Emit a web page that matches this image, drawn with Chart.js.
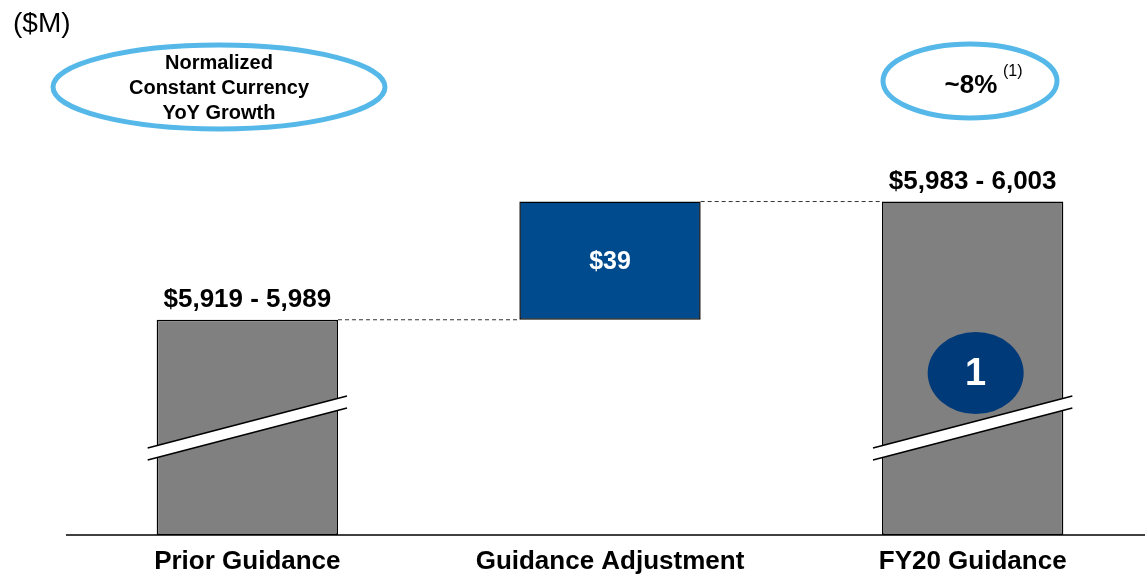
<!DOCTYPE html>
<html>
<head>
<meta charset="utf-8">
<script src="https://cdn.jsdelivr.net/npm/chart.js@4"></script>
<style>
  html, body { margin: 0; padding: 0; background: #fff; overflow: hidden; }
  #wrap { width: 1154px; height: 576px; }
</style>
</head>
<body>
<div id="wrap"><canvas id="guidanceChart" width="1154" height="576"></canvas></div>
<script>
const categories = ['Prior Guidance', 'Guidance Adjustment', 'FY20 Guidance'];
const rangeLow = [5919, null, 5983];
const rangeHigh = [5989, null, 6003];
const adjustment = [null, 39, null];
const axisFloor = 5883; // broken axis, bars start here

const fmt = v => v.toLocaleString('en-US');
const mid = i => (rangeLow[i] + rangeHigh[i]) / 2;
const priorMid = mid(0);
const barData = [
  [axisFloor, priorMid],
  [priorMid, priorMid + adjustment[1]],
  [axisFloor, mid(2)]
];
const barLabels = [
  '$' + fmt(rangeLow[0]) + ' - ' + fmt(rangeHigh[0]),
  '$' + adjustment[1],
  '$' + fmt(rangeLow[2]) + ' - ' + fmt(rangeHigh[2])
];

const FONT = '"Liberation Sans", Arial, sans-serif';

const extras = {
  id: 'extras',
  afterDatasetsDraw(chart) {
    const ctx = chart.ctx;
    const bars = chart.getDatasetMeta(0).data;
    const base = chart.scales.y.getPixelForValue(axisFloor);

    // axis line
    ctx.save();
    ctx.strokeStyle = '#000';
    ctx.lineWidth = 1.5;
    ctx.beginPath();
    ctx.moveTo(chart.chartArea.left, base);
    ctx.lineTo(chart.width, base);
    ctx.stroke();

    // dashed connectors
    ctx.strokeStyle = '#333';
    ctx.lineWidth = 1;
    ctx.setLineDash([4, 3]);
    for (let i = 0; i < bars.length - 1; i++) {
      const a = bars[i], b = bars[i + 1];
      ctx.beginPath();
      ctx.moveTo(a.x + a.width / 2, a.y);
      ctx.lineTo(b.x - b.width / 2, a.y);
      ctx.stroke();
    }
    ctx.setLineDash([]);

    // axis break stripes on the full bars
    [0, 2].forEach(i => {
      const b = bars[i];
      const x0 = b.x - b.width / 2 - 9, x1 = b.x + b.width / 2 + 9;
      const yl = base - 87, yr = base - 139, t = 12;
      ctx.fillStyle = '#fff';
      ctx.beginPath();
      ctx.moveTo(x0, yl); ctx.lineTo(x1, yr); ctx.lineTo(x1, yr + t); ctx.lineTo(x0, yl + t);
      ctx.closePath();
      ctx.fill();
      ctx.strokeStyle = '#000';
      ctx.lineWidth = 1.5;
      ctx.beginPath();
      ctx.moveTo(x0, yl); ctx.lineTo(x1, yr);
      ctx.moveTo(x0, yl + t); ctx.lineTo(x1, yr + t);
      ctx.stroke();
    });

    // value labels
    ctx.textAlign = 'center';
    ctx.textBaseline = 'middle';
    bars.forEach((b, i) => {
      if (i === 1) {
        ctx.fillStyle = '#fff';
        ctx.font = 'bold 25px ' + FONT;
        ctx.fillText(barLabels[i], b.x, (b.y + b.base) / 2 + 1);
      } else {
        ctx.fillStyle = '#000';
        ctx.font = 'bold 26px ' + FONT;
        ctx.fillText(barLabels[i], b.x, b.y - 20);
      }
    });

    // navy marker in FY20 bar
    const f = bars[2];
    ctx.fillStyle = '#003a78';
    ctx.beginPath();
    ctx.ellipse(f.x + 3, 373, 48, 41, 0, 0, Math.PI * 2);
    ctx.fill();
    ctx.fillStyle = '#fff';
    ctx.font = 'bold 38px ' + FONT;
    ctx.fillText('1', f.x + 3, 375);

    // unit
    ctx.fillStyle = '#000';
    ctx.textAlign = 'left';
    ctx.font = '28px ' + FONT;
    ctx.fillText('($M)', 13, 24);

    // growth ellipses
    ctx.strokeStyle = '#55b8e8';
    ctx.lineWidth = 5;
    ctx.beginPath();
    ctx.ellipse(219, 87, 166, 42, 0, 0, Math.PI * 2);
    ctx.stroke();
    ctx.beginPath();
    ctx.ellipse(970, 81, 87, 37, 0, 0, Math.PI * 2);
    ctx.stroke();

    ctx.textAlign = 'center';
    ctx.font = 'bold 20px ' + FONT;
    ctx.fillText('Normalized', 219, 63);
    ctx.fillText('Constant Currency', 219, 88);
    ctx.fillText('YoY Growth', 219, 113);

    ctx.font = 'bold 26px ' + FONT;
    ctx.fillText('~8%', 971, 86);
    ctx.font = '16px ' + FONT;
    ctx.textAlign = 'left';
    ctx.fillText('(1)', 1003, 72);
    ctx.restore();
  }
};

new Chart(document.getElementById('guidanceChart'), {
  type: 'bar',
  data: {
    labels: categories,
    datasets: [{
      data: barData,
      backgroundColor: ['#808080', '#004b8d', '#808080'],
      borderColor: '#000',
      borderWidth: 1.5,
      borderSkipped: false,
      categoryPercentage: 1,
      barPercentage: 0.5
    }]
  },
  options: {
    responsive: false,
    animation: false,
    layout: { padding: { left: 66, right: 0, top: 150, bottom: 0 } },
    plugins: {
      legend: { display: false },
      tooltip: { enabled: false }
    },
    scales: {
      x: {
        grid: { display: false },
        border: { display: false },
        afterFit(scale) { scale.height = 41; },
        ticks: {
          color: '#000',
          padding: 3,
          font: { family: FONT, size: 26, weight: 'bold' }
        }
      },
      y: {
        display: false,
        min: axisFloor,
        max: 6010
      }
    }
  },
  plugins: [extras]
});
</script>
</body>
</html>
